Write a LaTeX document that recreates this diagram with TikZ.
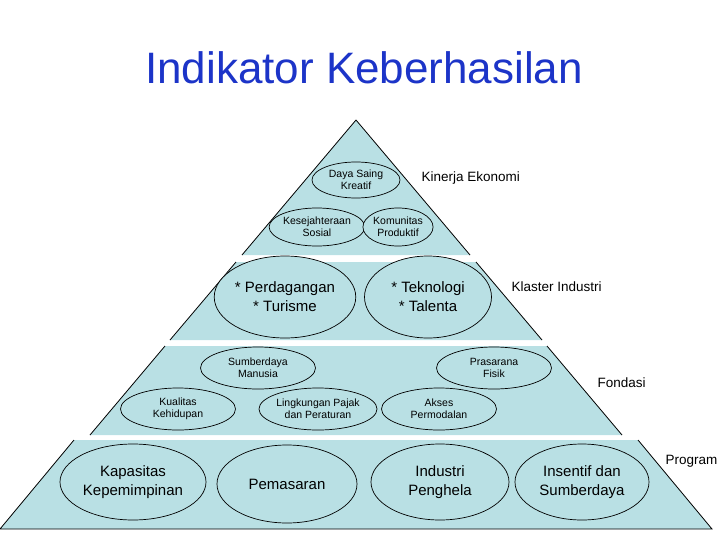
\documentclass[tikz,border=0pt]{standalone}
\usepackage{fontspec}
\setmainfont{Liberation Sans}
\definecolor{layerfill}{RGB}{185,224,228}
\definecolor{titleblue}{RGB}{28,52,200}
\usetikzlibrary{shapes.geometric}
\tikzstyle{layer} = [fill=layerfill, draw=none]
\tikzstyle{item} = [draw, ellipse, fill=layerfill, align=center, inner sep=0pt, line width=0.7pt]
\tikzstyle{small} = [item, font=\fontsize{10.5}{12}\selectfont]
\tikzstyle{big} = [item, font=\fontsize{15}{19}\selectfont]
\tikzstyle{side} = [font=\fontsize{13.5}{16}\selectfont, anchor=west]

\begin{document}
\begin{tikzpicture}[x=1pt, y=-1pt]
    \useasboundingbox (0,0) rectangle (728,546);

    % Title.
    \node (title) [font=\fontsize{44}{50}\selectfont, text=titleblue] at (364,68) {Indikator Keberhasilan};

    % Layers.
    \fill [layer] (356,120) -- (242,255) -- (470,255) -- cycle;
    \fill [layer] (236,262) -- (476,262) -- (542,340) -- (170,340) -- cycle;
    \fill [layer] (165,346) -- (547,346) -- (622,435) -- (90,435) -- cycle;
    \fill [layer] (74,440) -- (638,440) -- (712,529) -- (0,529) -- cycle;
    \draw [line width=0.8pt] (356,120) -- (242,255);
    \draw [line width=0.8pt] (356,120) -- (470,255);
    \draw [line width=0.8pt] (236,262) -- (170,340) (476,262) -- (542,340);
    \draw [line width=0.8pt] (165,346) -- (90,435) (547,346) -- (622,435);
    \draw [line width=0.8pt] (74,440) -- (0,529) -- (712,529) -- (638,440);

    % Kinerja Ekonomi.
    \node (daya) [small, minimum width=88, minimum height=36] at (356,180) {Daya Saing\\Kreatif};
    \node (sejahtera) [small, minimum width=92, minimum height=38] at (317,227) {Kesejahteraan\\Sosial};
    \node (komunitas) [small, minimum width=60, minimum height=38] at (398,227) {Komunitas\\Produktif};
    \node (kinerja) [side] at (418,178) {Kinerja Ekonomi};

    % Klaster Industri.
    \node (dagang) [big, minimum width=133, minimum height=82] at (285,297) {* Perdagangan\\* Turisme};
    \node (tekno) [big, minimum width=127, minimum height=82] at (428,297) {* Teknologi\\* Talenta};
    \node (klaster) [side] at (508,287) {Klaster Industri};

    % Fondasi.
    \node (sdm) [small, minimum width=115, minimum height=42] at (258,368) {Sumberdaya\\Manusia};
    \node (prasarana) [small, minimum width=115, minimum height=42] at (494,368) {Prasarana\\Fisik};
    \node (kualitas) [small, minimum width=115, minimum height=42] at (178,409) {Kualitas\\Kehidupan};
    \node (pajak) [small, minimum width=115, minimum height=42] at (318,409) {Lingkungan Pajak\\dan Peraturan};
    \node (akses) [small, minimum width=115, minimum height=42] at (439,409) {Akses\\Permodalan};
    \node (fondasi) [side] at (594,383) {Fondasi};

    % Program.
    \node (kapasitas) [big, minimum width=146, minimum height=76] at (133,482) {Kapasitas\\Kepemimpinan};
    \node (pemasaran) [big, minimum width=140, minimum height=78] at (287,484) {Pemasaran};
    \node (penghela) [big, minimum width=138, minimum height=76] at (440,482) {Industri\\Penghela};
    \node (insentif) [big, minimum width=134, minimum height=76] at (582,482) {Insentif dan\\Sumberdaya};
    \node (program) [side] at (662,461) {Program};
\end{tikzpicture}
\end{document}
